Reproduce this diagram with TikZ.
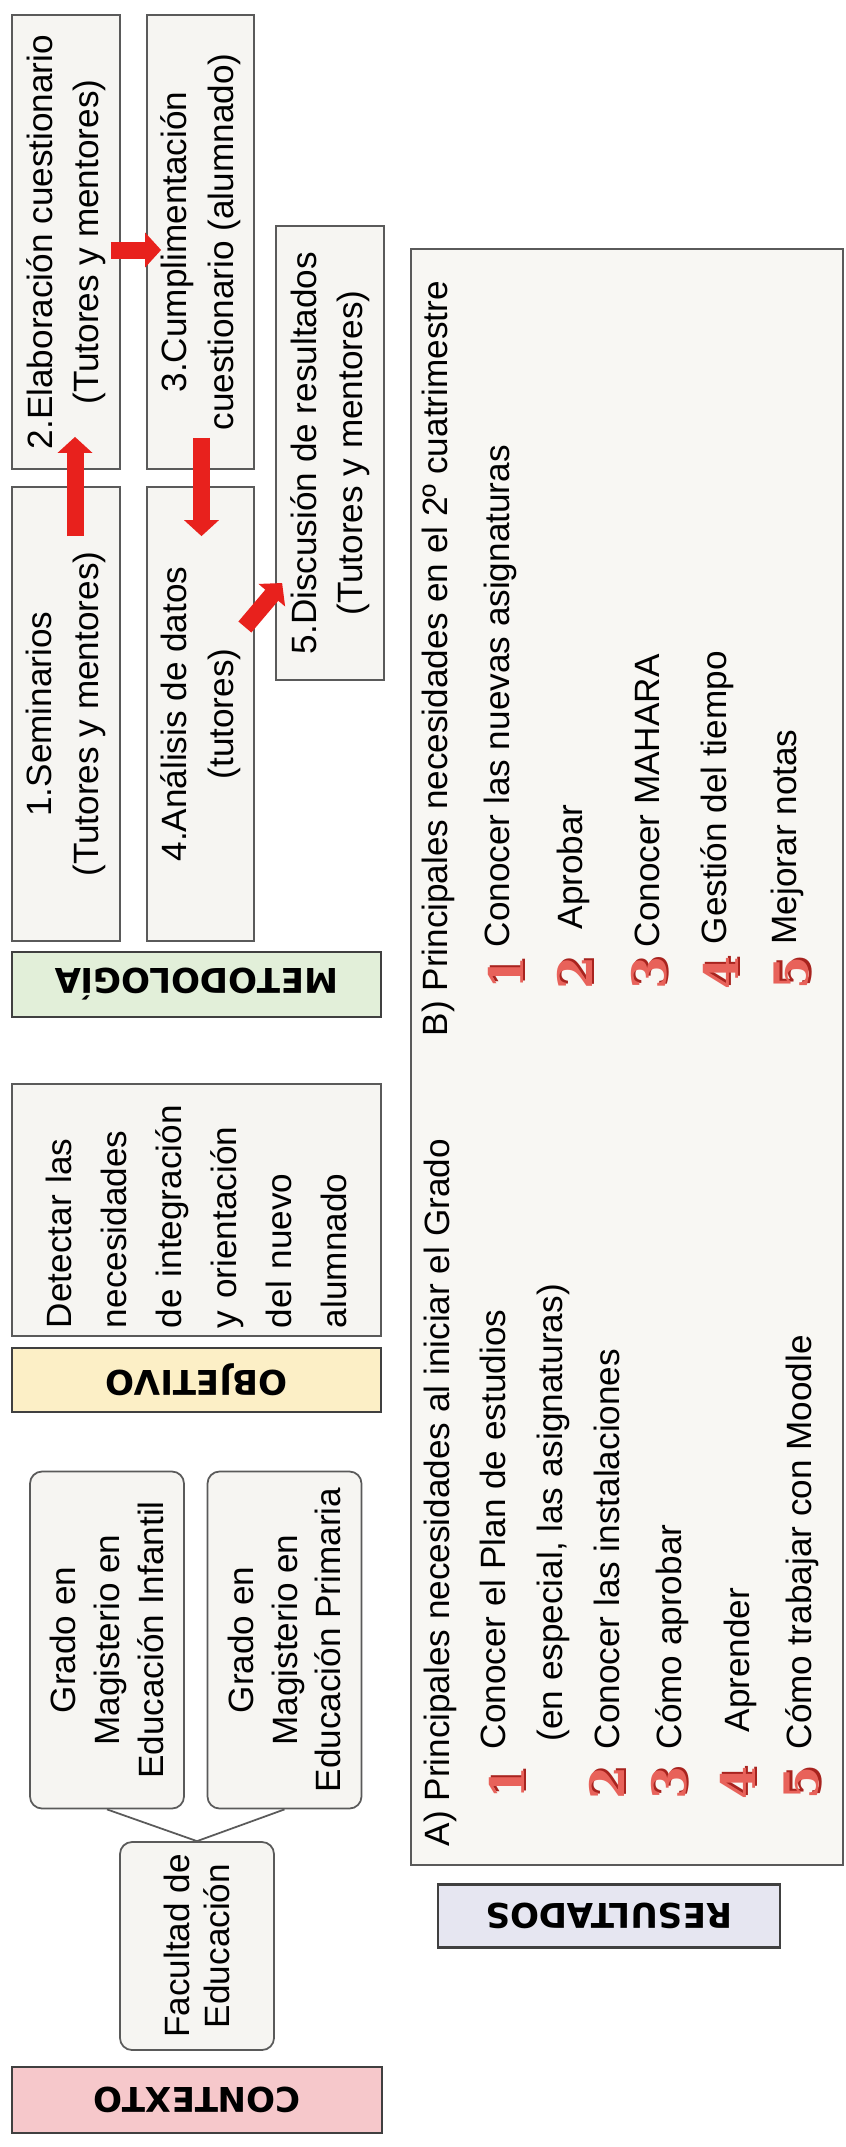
\documentclass[tikz,border=0pt]{standalone}
\usepackage{fontspec}
\setmainfont{Liberation Sans}
\newfontfamily\headfont{DejaVu Sans}
\newfontfamily\numfont{DejaVu Serif}
\usetikzlibrary{arrows.meta,calc}
\definecolor{boxfill}{HTML}{F6F5F2}
\definecolor{panelfill}{HTML}{F8F7F3}
\definecolor{boxline}{HTML}{5A5A5A}
\definecolor{ctxfill}{HTML}{F6C8CB}
\definecolor{objfill}{HTML}{FCEFC6}
\definecolor{metfill}{HTML}{E2EFD9}
\definecolor{resfill}{HTML}{E6E6F1}
\definecolor{flowred}{HTML}{E8211D}
\definecolor{numred}{HTML}{E8625A}
\definecolor{numdark}{HTML}{A8231E}
\newcommand{\bignum}[1]{\makebox[0pt][l]{\raisebox{-0.7pt}{\kern0.7pt\textcolor{numdark}{#1}}}#1}
\begin{document}
\begin{tikzpicture}[
  mbox/.style={draw=boxline, fill=boxfill, rotate=90, inner sep=0pt, align=center, line width=0.5pt, font=\fontsize{10}{13.2}\selectfont},
  gbox/.style={mbox, rounded corners=0.12cm, font=\fontsize{10}{12.4}\selectfont},
  head/.style={draw=black!75, line width=0.7pt, rotate=180, inner sep=0pt, font=\headfont\bfseries\fontsize{9.7}{11}\selectfont},
  itemtxt/.style={rotate=90, anchor=west, inner sep=0pt, font=\fontsize{10}{12}\selectfont},
  num/.style={rotate=90, inner sep=0pt, text=numred, font=\numfont\bfseries\fontsize{13.5}{14}\selectfont},
  flow/.style={draw=flowred, line width=0.17cm, -{Triangle[width=0.34cm,length=0.16cm]}}
]
\fill[white] (0,0) rectangle (8.45,-21.47);
\useasboundingbox (0,0) rectangle (8.45,-21.47);

\node[head, fill=ctxfill, minimum width=3.70cm, minimum height=0.66cm] (ctx) at (1.97,-21.00) {CONTEXTO};
\node[head, fill=objfill, minimum width=3.69cm, minimum height=0.64cm] (objl) at (1.965,-13.80) {OBJETIVO};
\node[head, fill=metfill, minimum width=3.69cm, minimum height=0.65cm] (metl) at (1.965,-9.845) {METODOLOGÍA};
\node[head, fill=resfill, minimum width=3.42cm, minimum height=0.63cm] (resl) at (6.09,-19.16) {RESULTADOS};

\node[gbox, minimum width=2.08cm, minimum height=1.54cm, font=\fontsize{10}{11.2}\selectfont] (fac) at (1.97,-19.46) {Facultad de\\Educación};
\node[gbox, minimum width=3.37cm, minimum height=1.54cm] (inf) at (1.07,-16.40) {Grado en\\Magisterio en\\Educación Infantil};
\node[gbox, minimum width=3.37cm, minimum height=1.54cm] (pri) at (2.845,-16.40) {Grado en\\Magisterio en\\Educación Primaria};
\draw[boxline, line width=0.5pt] (inf.west) -- (fac.east);
\draw[boxline, line width=0.5pt] (pri.west) -- (fac.east);

\node[mbox, minimum width=2.52cm, minimum height=3.69cm, text width=2.36cm, align=left, font=\fontsize{10}{15.6}\selectfont] (goal) at (1.965,-12.10)
{Detectar las\\necesidades\\de integración\\y orientación\\del nuevo\\alumnado};

\node[mbox, minimum width=4.54cm, minimum height=1.08cm] (s1) at (0.66,-7.14) {1.Seminarios\\(Tutores y mentores)};
\node[mbox, minimum width=4.54cm, minimum height=1.08cm] (s2) at (0.66,-2.42) {2.Elaboración cuestionario\\(Tutores y mentores)};
\node[mbox, minimum width=4.54cm, minimum height=1.07cm] (s3) at (2.005,-2.42) {3.Cumplimentación\\cuestionario (alumnado)};
\node[mbox, minimum width=4.54cm, minimum height=1.07cm] (s4) at (2.005,-7.14) {4.Análisis de datos\\(tutores)};
\node[mbox, minimum width=4.54cm, minimum height=1.08cm] (s5) at (3.30,-4.53) {5.Discusión de resultados\\(Tutores y mentores)};
\draw[flow, shorten <=-0.5cm, shorten >=-0.33cm] ([xshift=0.09cm]s1.east) -- ([xshift=0.09cm]s2.west);
\draw[flow, shorten <=-0.1cm, shorten >=-0.15cm] ([yshift=-0.08cm]s2.south) -- ([yshift=-0.08cm]s3.north);
\draw[flow, shorten <=-0.32cm, shorten >=-0.5cm] ([xshift=0.01cm]s3.west) -- ([xshift=0.01cm]s4.east);
\draw[flow] ($(s4.south)+(-0.10,0.87)$) -- ($(s5.north)+(0.07,-1.30)$);

\node[draw=boxline, fill=panelfill, line width=0.5pt, minimum width=4.32cm, minimum height=16.16cm] (resbox) at (6.27,-10.57) {};

\node[itemtxt] (a0) at (4.40,-18.47) {A) Principales necesidades al iniciar el Grado};
\node[num] (na1) at (5.08,-17.83) {\bignum{1}};
\node[itemtxt] (a1) at (4.93,-17.50) {Conocer el Plan de estudios};
\node[itemtxt] (a1b) at (5.53,-17.42) {(en especial, las asignaturas)};
\node[num] (na2) at (6.08,-17.83) {\bignum{2}};
\node[itemtxt] (a2) at (6.07,-17.50) {Conocer las instalaciones};
\node[num] (na3) at (6.70,-17.83) {\bignum{3}};
\node[itemtxt] (a3) at (6.72,-17.50) {Cómo aprobar};
\node[num] (na4) at (7.39,-17.83) {\bignum{4}};
\node[itemtxt] (a4) at (7.40,-17.33) {Aprender};
\node[num] (na5) at (8.03,-17.83) {\bignum{5}};
\node[itemtxt] (a5) at (8.02,-17.50) {Cómo trabajar con Moodle};

\node[itemtxt] (b0) at (4.38,-10.37) {B) Principales necesidades en el 2º cuatrimestre};
\node[num] (nb1) at (5.07,-9.73) {\bignum{1}};
\node[itemtxt] (b1) at (5.00,-9.48) {Conocer las nuevas asignaturas};
\node[num] (nb2) at (5.76,-9.73) {\bignum{2}};
\node[itemtxt] (b2) at (5.73,-9.30) {Aprobar};
\node[num] (nb3) at (6.50,-9.73) {\bignum{3}};
\node[itemtxt] (b3) at (6.47,-9.48) {Conocer MAHARA};
\node[num] (nb4) at (7.22,-9.73) {\bignum{4}};
\node[itemtxt] (b4) at (7.17,-9.45) {Gestión del tiempo};
\node[num] (nb5) at (7.93,-9.73) {\bignum{5}};
\node[itemtxt] (b5) at (7.87,-9.45) {Mejorar notas};
\end{tikzpicture}
\end{document}
